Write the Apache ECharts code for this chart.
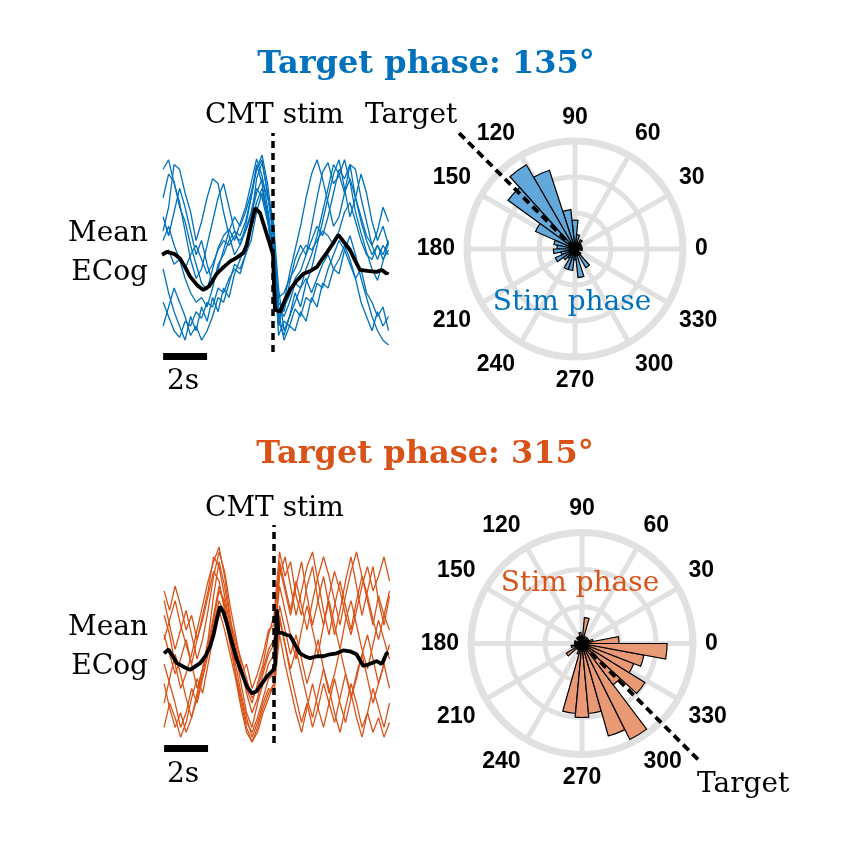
<!DOCTYPE html>
<html>
<head>
<meta charset="utf-8">
<script src="https://cdn.jsdelivr.net/npm/echarts@6/dist/echarts.min.js"></script>
<style>
html,body{margin:0;padding:0;background:#fff;}
#chart{width:851px;height:852px;}
</style>
</head>
<body>
<div id="chart"></div>
<script>
// ---------- time axis (s, relative to CMT stim) ----------
const times = [-5.00,-4.75,-4.50,-4.25,-4.00,-3.75,-3.50,-3.25,-3.00,-2.75,-2.50,-2.25,-2.00,-1.75,-1.50,-1.25,-1.00,-0.75,-0.50,-0.25,0.00,0.25,0.50,0.75,1.00,1.25,1.50,1.75,2.00,2.25,2.50,2.75,3.00,3.25,3.50,3.75,4.00,4.25,4.50,4.75,5.00,5.25];

// ---------- Target phase 135° : single-trial ECoG (normalised) ----------
const topTrial1 = [0.55,0.80,0.72,0.45,0.30,0.05,-0.15,-0.35,-0.42,-0.20,0.02,0.15,0.22,0.10,0.28,0.45,0.70,0.96,0.78,0.45,0.05,-0.72,-0.60,-0.48,-0.30,-0.22,-0.05,0.25,0.55,0.82,0.92,0.70,0.78,0.95,0.72,0.40,0.18,-0.02,-0.20,-0.32,-0.12,0.08];
const topTrial2 = [-0.55,-0.70,-0.85,-0.92,-0.75,-0.80,-0.65,-0.72,-0.55,-0.60,-0.40,-0.45,-0.30,-0.20,-0.25,-0.05,0.30,0.75,0.92,0.60,0.20,-0.90,-0.75,-0.80,-0.62,-0.70,-0.50,-0.55,-0.35,-0.40,-0.20,-0.05,0.10,0.00,-0.15,-0.30,-0.20,-0.45,-0.55,-0.70,-0.60,-0.85];
const topTrial3 = [0.10,0.25,0.05,-0.10,-0.30,-0.45,-0.55,-0.50,-0.60,-0.40,-0.15,-0.05,0.10,0.20,0.15,0.30,0.55,0.85,1.00,0.70,0.25,-0.55,-0.65,-0.35,-0.10,0.05,-0.05,0.10,0.25,0.15,0.35,0.60,0.85,0.75,0.90,0.55,0.30,0.10,-0.05,0.05,-0.10,0.00];
const topTrial4 = [0.20,0.45,0.90,0.85,0.60,0.40,0.10,0.30,0.55,0.75,0.70,0.40,0.15,-0.05,0.05,0.20,0.35,0.60,0.75,0.55,0.35,-0.40,-0.85,-0.70,-0.45,-0.60,-0.35,-0.20,0.05,0.30,0.55,0.80,0.95,0.65,0.35,0.55,0.80,0.60,0.30,0.10,0.25,0.05];
const topTrial5 = [-0.20,-0.45,-0.65,-0.80,-0.95,-0.70,-0.85,-0.60,-0.75,-0.50,-0.65,-0.40,-0.50,-0.25,-0.10,0.05,0.25,0.50,0.65,0.40,0.00,-0.65,-0.95,-0.80,-0.85,-0.65,-0.75,-0.50,-0.60,-0.35,-0.40,-0.20,-0.25,0.00,0.15,-0.05,-0.30,-0.50,-0.70,-0.85,-0.95,-1.00];
const topTrial6 = [-0.05,0.00,-0.15,-0.10,-0.20,-0.05,0.05,-0.10,-0.25,-0.15,0.00,0.10,0.05,0.15,0.10,0.20,0.40,0.65,0.55,0.30,-0.05,-0.50,-0.45,-0.30,-0.20,-0.05,0.05,0.00,0.10,0.20,0.15,0.05,0.20,0.40,0.50,0.30,0.10,-0.05,-0.10,0.05,-0.05,0.10];
const topTrial7 = [0.85,0.95,0.70,0.50,0.20,-0.10,-0.30,-0.20,0.05,0.30,0.55,0.70,0.45,0.20,0.05,0.25,0.55,0.90,0.70,0.35,-0.10,-0.80,-0.55,-0.25,0.00,0.25,0.55,0.80,0.95,0.75,0.50,0.25,0.35,0.60,0.90,0.85,0.55,0.30,0.05,0.20,0.45,0.30];
const topTrial8 = [-0.80,-0.60,-0.40,-0.55,-0.70,-0.90,-0.80,-0.95,-0.85,-0.70,-0.50,-0.55,-0.35,-0.15,-0.20,-0.05,0.10,0.40,0.60,0.35,-0.05,-0.75,-0.90,-0.70,-0.55,-0.40,-0.30,-0.45,-0.30,-0.15,-0.05,-0.20,-0.10,0.05,-0.10,-0.30,-0.55,-0.70,-0.85,-0.65,-0.80,-0.70];
const topTrial9 = [0.35,0.15,0.40,0.65,0.45,0.20,-0.05,0.10,-0.15,-0.35,-0.20,0.00,0.20,0.35,0.25,0.40,0.60,0.85,0.95,0.60,0.15,-0.60,-0.70,-0.55,-0.35,-0.40,-0.20,-0.05,0.15,0.40,0.65,0.90,0.80,0.60,0.75,0.55,0.35,0.15,0.05,-0.10,0.05,-0.05];
const topMeanT = [-5.05,-4.83,-4.5,-4.23,-4.0,-3.77,-3.45,-3.17,-2.9,-2.56,-2.25,-1.95,-1.65,-1.35,-1.2,-1.05,-0.82,-0.59,-0.4,-0.21,0.0,0.04,0.09,0.32,0.55,0.77,1.05,1.38,1.7,1.99,2.25,2.44,2.7,2.97,3.2,3.5,3.75,3.95,4.3,4.71,4.95,5.17,5.22];
const topMeanV = [-0.05,-0.02,-0.04,-0.09,-0.18,-0.28,-0.37,-0.42,-0.38,-0.25,-0.18,-0.12,-0.08,-0.03,0.05,0.21,0.44,0.39,0.25,0.11,-0.05,-0.35,-0.63,-0.65,-0.52,-0.42,-0.33,-0.25,-0.22,-0.18,-0.09,-0.03,0.06,0.16,0.09,0.0,-0.12,-0.21,-0.22,-0.23,-0.21,-0.25,-0.23];

// ---------- Target phase 315° : single-trial ECoG (normalised) ----------
const botTrial1 = [0.30,0.10,-0.20,-0.45,-0.30,-0.10,0.15,0.40,0.65,0.85,1.00,0.70,0.30,-0.10,-0.40,-0.70,-0.85,-0.60,-0.40,-0.20,-0.10,0.80,0.55,0.30,0.60,0.85,0.50,0.20,0.45,0.70,0.40,0.10,0.35,0.65,0.90,0.60,0.30,0.55,0.80,0.45,0.20,0.50];
const botTrial2 = [-0.40,-0.65,-0.85,-0.70,-0.90,-0.75,-0.55,-0.30,-0.05,0.25,0.55,0.45,0.10,-0.30,-0.60,-0.85,-1.00,-0.90,-0.70,-0.55,-0.40,0.25,0.00,-0.30,-0.55,-0.80,-0.60,-0.85,-0.65,-0.40,-0.60,-0.80,-0.55,-0.30,-0.50,-0.75,-0.95,-0.70,-0.45,-0.65,-0.85,-0.60];
const botTrial3 = [0.05,0.25,0.45,0.20,0.00,-0.20,0.05,0.30,0.55,0.90,0.80,0.50,0.20,0.00,-0.25,-0.45,-0.60,-0.40,-0.20,0.10,0.30,0.95,0.70,0.85,0.50,0.30,0.60,0.80,0.45,0.20,0.50,0.75,0.55,0.30,0.10,0.35,0.60,0.80,0.55,0.70,0.90,0.65];
const botTrial4 = [-0.60,-0.35,-0.10,-0.30,-0.55,-0.75,-0.50,-0.25,0.00,0.30,0.60,0.40,0.05,-0.20,-0.50,-0.75,-0.95,-0.80,-0.60,-0.45,-0.50,0.10,-0.20,-0.45,-0.70,-0.90,-0.65,-0.40,-0.65,-0.85,-0.60,-0.35,-0.60,-0.80,-0.55,-0.30,-0.10,-0.35,-0.60,-0.40,-0.20,-0.45];
const botTrial5 = [0.45,0.20,-0.05,0.15,0.35,0.10,-0.15,0.05,0.35,0.70,0.95,0.75,0.40,0.10,-0.20,-0.50,-0.70,-0.55,-0.30,-0.10,0.00,0.70,0.90,0.60,0.30,0.55,0.80,0.95,0.65,0.35,0.10,0.40,0.65,0.40,0.15,0.45,0.70,0.50,0.25,0.05,0.30,0.55];
const botTrial6 = [-0.20,-0.40,-0.60,-0.85,-0.70,-0.45,-0.60,-0.35,-0.10,0.20,0.45,0.30,0.00,-0.30,-0.55,-0.80,-0.90,-0.75,-0.55,-0.35,-0.30,0.40,0.15,-0.10,0.10,-0.15,-0.40,-0.20,0.05,-0.25,-0.50,-0.30,-0.05,-0.30,-0.55,-0.35,-0.10,0.10,-0.15,-0.40,-0.20,0.00];
const botTrial7 = [0.10,-0.10,-0.30,-0.15,0.05,-0.20,-0.45,-0.25,0.05,0.50,0.85,0.60,0.25,0.05,-0.15,-0.35,-0.55,-0.45,-0.25,-0.05,0.05,0.60,0.35,0.10,-0.15,0.15,0.40,0.15,-0.10,0.20,0.45,0.20,-0.05,0.25,0.45,0.20,-0.05,-0.25,0.00,0.25,0.05,-0.15];
const botTrial8 = [-0.85,-0.60,-0.75,-0.95,-0.80,-0.55,-0.35,-0.50,-0.20,0.10,0.35,0.15,-0.10,-0.35,-0.65,-0.90,-1.00,-0.85,-0.65,-0.50,-0.40,0.30,0.00,-0.25,-0.05,-0.30,-0.55,-0.75,-0.50,-0.25,-0.45,-0.70,-0.90,-0.65,-0.40,-0.60,-0.85,-0.70,-0.90,-0.75,-0.95,-0.80];
const botTrial9 = [0.55,0.35,0.60,0.40,0.15,0.30,0.05,0.25,0.50,0.75,0.65,0.35,0.15,-0.05,-0.30,-0.20,-0.45,-0.30,-0.10,0.15,0.20,0.85,0.60,0.35,0.65,0.40,0.15,0.45,0.70,0.90,0.70,0.45,0.20,0.50,0.75,0.95,0.70,0.45,0.20,0.50,0.30,0.15];
const botMeanT = [-5.0,-4.8,-4.42,-4.1,-3.82,-3.36,-3.1,-2.91,-2.75,-2.6,-2.45,-2.3,-2.15,-1.95,-1.7,-1.45,-1.24,-1.01,-0.8,-0.64,-0.33,-0.03,0.05,0.12,0.2,0.35,0.55,0.73,0.95,1.18,1.4,1.64,1.95,2.24,2.55,2.85,3.15,3.45,3.75,4.06,4.35,4.67,4.9,5.12,5.2];
const botMeanV = [-0.09,-0.05,-0.19,-0.23,-0.26,-0.19,-0.11,-0.02,0.1,0.26,0.39,0.33,0.22,0.05,-0.15,-0.3,-0.43,-0.5,-0.48,-0.43,-0.33,-0.26,-0.2,0.36,0.12,0.12,0.1,0.09,0.0,-0.09,-0.12,-0.14,-0.12,-0.12,-0.1,-0.09,-0.06,-0.07,-0.1,-0.22,-0.2,-0.17,-0.2,-0.09,-0.08];

// ---------- scale bar (2 s) ----------
const scaleBarT = [-5, -3];

// ---------- stim-phase histograms ----------
const topBinStart = [0,12,24,36,48,60,72,84,96,108,120,132,144,156,168,180,192,204,216,228,240,252,264,276,288,300,312,324,336,348];
const topCounts   = [2,1,2,2,3,2,4,8,11,23,27,23,12,6,5,6,4,6,4,3,6,6,3,8,2,6,2,1,1,2];
const botBinStart = [0,10.6,21.2,31.8,42.4,52.9,63.5,74.1,84.7,95.3,105.9,116.5,127.1,137.6,148.2,158.8,169.4,180,190.6,201.2,211.8,222.4,232.9,243.5,254.1,264.7,275.3,285.9,296.5,307.1,317.6,328.2,338.8,349.4];
const botCounts   = [10,3,2,1,2,1,2,7,2,3,2,2,2,1,1,2,2,2,3,2,5,2,2,3,19,20,19,26,29,14,20,15,17,23];
const radialMax = 30;
const topTarget = 135, botTarget = 315;

const BLUE = '#0072bd', ORANGE = '#d95319';
const BLUE_FILL = '#62a8da', ORANGE_FILL = '#e99a74';
const GRID_GRAY = '#e1e1e1';
const SERIF = '"DejaVu Serif", serif';
const SANS = '"Liberation Sans", Arial, sans-serif';

const topTrials = [topTrial1,topTrial2,topTrial3,topTrial4,topTrial5,topTrial6,topTrial7,topTrial8,topTrial9];
const botTrials = [botTrial1,botTrial2,botTrial3,botTrial4,botTrial5,botTrial6,botTrial7,botTrial8,botTrial9];

function pairs(tArr, vArr){ return tArr.map((t,i)=>[t, vArr[i]]); }

const stimMark = {
  silent:true, symbol:['none','none'], label:{show:false},
  lineStyle:{color:'#000', type:[7,5], width:3.5}, data:[{xAxis:0}]
};

function hiddenAxis(extra){ return Object.assign({show:false}, extra); }

const series = [];
topTrials.forEach(tr => series.push({type:'line', xAxisIndex:0, yAxisIndex:0, data:pairs(times,tr), symbol:'none', silent:true, lineStyle:{color:BLUE, width:1.3}, z:2}));
series.push({type:'line', xAxisIndex:0, yAxisIndex:0, data:pairs(topMeanT,topMeanV), symbol:'none', lineStyle:{color:'#000', width:3.8}, z:4, markLine:stimMark});
series.push({type:'line', xAxisIndex:1, yAxisIndex:1, data:scaleBarT.map(t=>[t,0]), symbol:'none', lineStyle:{color:'#000', width:7, cap:'butt'}});
botTrials.forEach(tr => series.push({type:'line', xAxisIndex:2, yAxisIndex:2, data:pairs(times,tr), symbol:'none', silent:true, lineStyle:{color:ORANGE, width:1.3}, z:2}));
series.push({type:'line', xAxisIndex:2, yAxisIndex:2, data:pairs(botMeanT,botMeanV), symbol:'none', lineStyle:{color:'#000', width:3.8}, z:4, markLine:stimMark});
series.push({type:'line', xAxisIndex:3, yAxisIndex:3, data:scaleBarT.map(t=>[t,0]), symbol:'none', lineStyle:{color:'#000', width:7, cap:'butt'}});

// polar histograms
series.push({type:'bar', coordinateSystem:'polar', polarIndex:1, data:topCounts, barCategoryGap:'0%', itemStyle:{color:BLUE_FILL, borderColor:'#000', borderWidth:1.2}, z:3});
series.push({type:'bar', coordinateSystem:'polar', polarIndex:3, data:botCounts, barCategoryGap:'0%', itemStyle:{color:ORANGE_FILL, borderColor:'#000', borderWidth:1.2}, z:3});
// dashed target lines (in their own, larger polar systems sharing the centres)
series.push({type:'line', coordinateSystem:'polar', polarIndex:4, data:[[0,topTarget],[1,topTarget]], symbol:'none', lineStyle:{color:'#000', width:3.8, type:[8,5]}, z:5});
series.push({type:'line', coordinateSystem:'polar', polarIndex:5, data:[[0,botTarget],[1,botTarget]], symbol:'none', lineStyle:{color:'#000', width:3.8, type:[8,5]}, z:5});

function gridAngleAxis(pi){
  return {polarIndex:pi, type:'value', min:0, max:360, interval:30, startAngle:0, clockwise:false,
    axisLine:{lineStyle:{color:GRID_GRAY, width:7}}, axisTick:{show:false},
    axisLabel:{margin:12, color:'#000', fontFamily:SANS, fontWeight:'bold', fontSize:23,
      formatter:v => v===360 ? '' : String(v)},
    splitLine:{lineStyle:{color:GRID_GRAY, width:5}}};
}
function hiddenAngleAxis(pi, cats){
  const a = {polarIndex:pi, startAngle:0, clockwise:false,
    axisLine:{show:false}, axisTick:{show:false}, axisLabel:{show:false}, splitLine:{show:false}};
  if (cats) { a.type = 'category'; a.data = cats; } else { a.type = 'value'; a.min = 0; a.max = 360; }
  return a;
}
function gridRadiusAxis(pi){
  return {polarIndex:pi, type:'value', min:0, max:radialMax, interval:radialMax/3,
    axisLine:{show:false}, axisTick:{show:false}, axisLabel:{show:false},
    splitLine:{lineStyle:{color:GRID_GRAY, width:5}}};
}
function hiddenRadiusAxis(pi, max){
  return {polarIndex:pi, type:'value', min:0, max:max,
    axisLine:{show:false}, axisTick:{show:false}, axisLabel:{show:false}, splitLine:{show:false}};
}

function txt(x, y, text, font, fill, align){
  return {type:'text', x:x, y:y, z:100, silent:true, style:{text:text, font:font, fill:fill||'#000', align:align||'center', verticalAlign:'middle'}};
}

const option = {
  animation:false,
  backgroundColor:'#fff',
  grid:[
    {left:162, right:462.5, top:133, height:219},
    {left:162, right:462.5, top:352, height:9},
    {left:163, right:461.5, top:525, height:218},
    {left:163, right:461.5, top:744, height:9}
  ],
  xAxis:[
    hiddenAxis({type:'value', gridIndex:0, min:-5.05, max:5.25}),
    hiddenAxis({type:'value', gridIndex:1, min:-5.05, max:5.25}),
    hiddenAxis({type:'value', gridIndex:2, min:-5.05, max:5.25}),
    hiddenAxis({type:'value', gridIndex:3, min:-5.05, max:5.25})
  ],
  yAxis:[
    hiddenAxis({type:'value', gridIndex:0, min:-1.074, max:1.232}),
    hiddenAxis({type:'value', gridIndex:1, min:-1, max:1}),
    hiddenAxis({type:'value', gridIndex:2, min:-1.01, max:1.226}),
    hiddenAxis({type:'value', gridIndex:3, min:-1, max:1})
  ],
  polar:[
    {center:[575,249], radius:[0,108]},
    {center:[575,249], radius:[0,108]},
    {center:[582,643.5], radius:[0,111]},
    {center:[582,643.5], radius:[0,111]},
    {center:[575,249], radius:[0,166]},
    {center:[582,643.5], radius:[0,169]}
  ],
  angleAxis:[gridAngleAxis(0), hiddenAngleAxis(1, topBinStart), gridAngleAxis(2), hiddenAngleAxis(3, botBinStart), hiddenAngleAxis(4), hiddenAngleAxis(5)],
  radiusAxis:[gridRadiusAxis(0), hiddenRadiusAxis(1, radialMax), gridRadiusAxis(2), hiddenRadiusAxis(3, radialMax), hiddenRadiusAxis(4, 1), hiddenRadiusAxis(5, 1)],
  series:series,
  graphic:[
    txt(426, 65, 'Target phase: 135°', 'bold 32px '+SERIF, BLUE),
    txt(205, 116, 'CMT stim', '28px '+SERIF, '#000', 'left'),
    txt(365, 116, 'Target', '28px '+SERIF, '#000', 'left'),
    txt(148, 234, 'Mean', '28px '+SERIF, '#000', 'right'),
    txt(148, 273, 'ECog', '28px '+SERIF, '#000', 'right'),
    txt(183, 382, '2s', '28px '+SERIF),
    txt(572, 303, 'Stim phase', '28px '+SERIF, BLUE),

    txt(425, 455, 'Target phase: 315°', 'bold 32px '+SERIF, ORANGE),
    txt(205, 509, 'CMT stim', '28px '+SERIF, '#000', 'left'),
    txt(148, 628, 'Mean', '28px '+SERIF, '#000', 'right'),
    txt(148, 667, 'ECog', '28px '+SERIF, '#000', 'right'),
    txt(183, 775, '2s', '28px '+SERIF),
    txt(580, 584, 'Stim phase', '28px '+SERIF, ORANGE),
    txt(697, 785, 'Target', '28px '+SERIF, '#000', 'left')
  ]
};

const chart = echarts.init(document.getElementById('chart'), null, {renderer:'canvas'});
chart.setOption(option);
</script>
</body>
</html>
